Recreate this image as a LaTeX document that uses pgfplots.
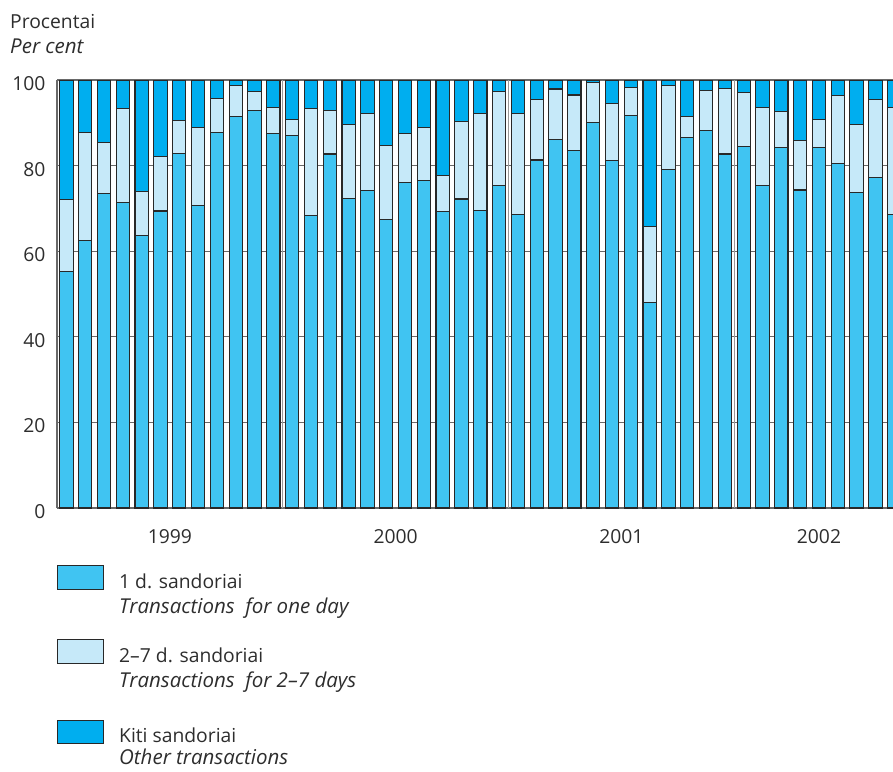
\documentclass[border=0pt]{standalone}
\usepackage{fontspec}
\setmainfont{Open Sans}
\usepackage{pgfplots}
\pgfplotsset{compat=1.18}
\usepackage{pgfplotstable}
\definecolor{cone}{RGB}{64,196,242}
\definecolor{ctwo}{RGB}{198,233,249}
\definecolor{cthree}{RGB}{0,174,239}
\definecolor{edge}{RGB}{40,40,40}
\definecolor{txt}{RGB}{45,45,45}
\definecolor{gridc}{RGB}{105,105,105}

\pgfplotstableread{
x a b c
0 55.2 16.8 28.0
1 62.5 25.2 12.3
2 73.5 11.9 14.6
3 71.3 22.0 6.7
4 63.6 10.3 26.1
5 69.4 12.7 17.9
6 82.9 7.6 9.5
7 70.6 18.3 11.1
8 87.7 7.9 4.4
9 91.4 7.3 1.3
10 92.9 4.5 2.6
11 87.5 6.0 6.5
12 87.1 3.7 9.2
13 68.3 25.1 6.6
14 82.7 10.2 7.1
15 72.4 17.2 10.4
16 74.1 18.0 7.9
17 67.4 17.2 15.4
18 76.0 11.5 12.5
19 76.6 12.3 11.1
20 69.3 8.3 22.4
21 72.2 18.1 9.7
22 69.6 22.5 7.9
23 75.3 22.1 2.6
24 68.6 23.6 7.8
25 81.3 14.1 4.6
26 86.0 11.9 2.1
27 83.6 12.9 3.5
28 90.0 9.5 0.5
29 81.2 13.3 5.5
30 91.8 6.4 1.8
31 48.0 17.8 34.2
32 79.1 19.7 1.2
33 86.5 5.0 8.5
34 88.3 9.3 2.4
35 82.7 15.3 2.0
36 84.4 12.7 2.9
37 75.4 18.1 6.5
38 84.3 8.3 7.4
39 74.3 11.5 14.2
40 84.3 6.4 9.3
41 80.4 15.9 3.7
42 73.8 15.8 10.4
43 77.3 18.1 4.6
44 68.6 24.9 6.5
}\data

\newcommand{\itl}{\fontsize{20.5}{24}\selectfont\itshape}
\begin{document}
\begin{tikzpicture}[font=\fontsize{19.3}{23}\selectfont, every node/.style={text=txt}]
\useasboundingbox (0pt,0pt) rectangle (893pt,-771pt);
\begin{axis}[
  at={(57pt,-508pt)}, anchor=south west,
  width=836pt, height=428pt, scale only axis,
  xmin=-0.5, xmax=43.936, ymin=0, ymax=100,
  ybar stacked, bar width=13.3pt,
  separate axis lines,
  axis x line*=box, axis y line*=left,
  axis line style={-, draw=gridc, line width=1.2pt},
  ytick={0,20,...,100},
  ymajorgrids,
  major grid style={draw=gridc, line width=1.2pt},
  major tick length=0pt,
  xtick={5.5,17.5,29.5,40},
  xticklabels={1999,2000,2001,2002},
  extra x ticks={11.5,23.5,35.5},
  extra x tick labels={},
  extra x tick style={grid=major, major grid style={draw=gray!80, line width=1pt}},
  /pgf/number format/assume math mode=true,
  tick label style={font=\fontsize{19.3}{23}\selectfont, text=txt},
  xticklabel style={anchor=base, yshift=-35pt},
  yticklabel style={anchor=east, xshift=-8pt, yshift=-3.5pt},
  clip=true,
]
\addplot[fill=cone, draw=edge, line width=1.1pt] table[x=x,y=a]{\data};
\addplot[fill=ctwo, draw=edge, line width=1.1pt] table[x=x,y=b]{\data};
\addplot[fill=cthree, draw=edge, line width=1.1pt] table[x=x,y=c]{\data};
\end{axis}
\node[anchor=base west, inner sep=0pt] at (10pt,-28pt) {Procentai};
\node[anchor=base west, inner sep=0pt] at (10pt,-53pt) {\itl Per cent};
% legend
\draw[fill=cone, draw=edge, line width=1pt] (57pt,-565pt) rectangle (103pt,-589pt);
\node[anchor=base west, inner sep=0pt] at (119pt,-588pt) {1 d. sandoriai};
\node[anchor=base west, inner sep=0pt] at (119pt,-613pt) {\itl Transactions~ for one day};
\draw[fill=ctwo, draw=edge, line width=1pt] (57pt,-639pt) rectangle (103pt,-663pt);
\node[anchor=base west, inner sep=0pt] at (119pt,-662pt) {2--7 d. sandoriai};
\node[anchor=base west, inner sep=0pt] at (119pt,-687pt) {\itl Transactions~ for 2--7 days};
\draw[fill=cthree, draw=edge, line width=1pt] (57pt,-720pt) rectangle (103pt,-743pt);
\node[anchor=base west, inner sep=0pt] at (119pt,-742pt) {Kiti sandoriai};
\node[anchor=base west, inner sep=0pt] at (119pt,-764pt) {\itl Other transactions};
\end{tikzpicture}
\end{document}
